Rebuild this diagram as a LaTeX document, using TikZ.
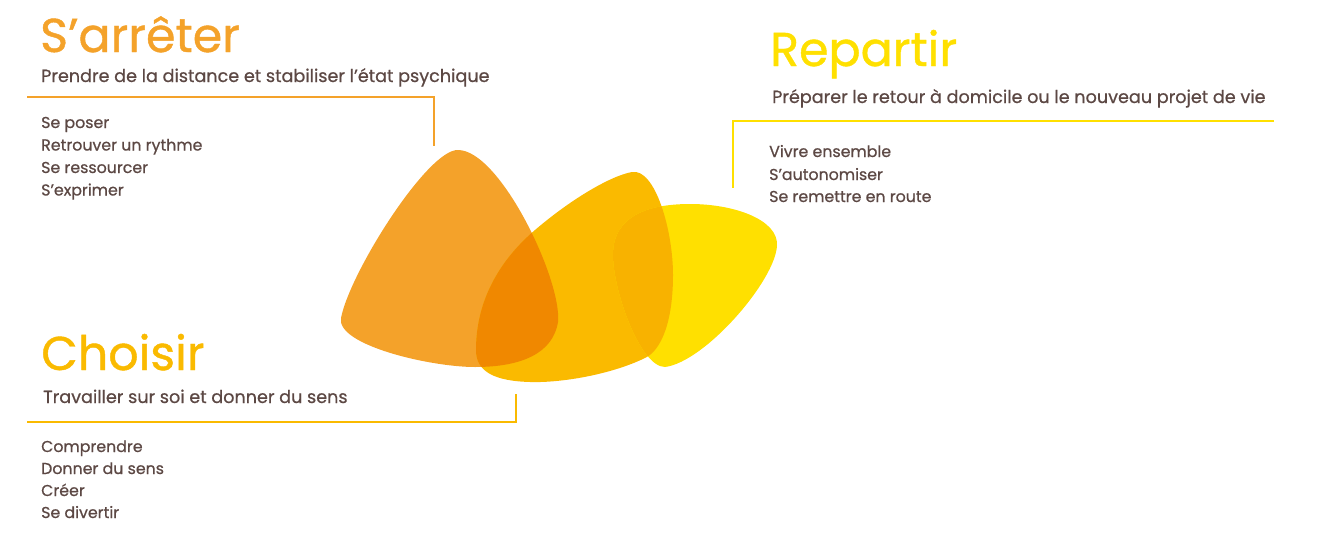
\documentclass[tikz,border=0pt]{standalone}
\usepackage{fontspec}
\setmainfont{Poppins}
\newfontfamily\pmed[FakeBold=0.7]{Poppins}
\newfontfamily\ptitle[FakeBold=0.9]{Poppins}
\definecolor{cArret}{HTML}{F4A22A}
\definecolor{cChoix}{HTML}{FABA00}
\definecolor{cRepart}{HTML}{FFE000}
\definecolor{cOverA}{HTML}{F08800}
\definecolor{cOverB}{HTML}{F8B200}
\definecolor{cText}{HTML}{5C4844}
\tikzset{
  shArret/.style={insert path={(458,150) .. controls (428,149) and (350,272) .. (341,318) .. controls (336,345) and (430,367) .. (475,367) .. controls (522,367) and (553,353) .. (558,322) .. controls (562,280) and (500,150) .. (458,150) -- cycle}},
  shChoix/.style={insert path={(632,172) .. controls (655,168) and (673,230) .. (673,275) .. controls (673,320) and (662,350) .. (645,358) .. controls (610,375) and (560,383) .. (530,382) .. controls (495,381) and (476,372) .. (476,350) .. controls (476,300) and (500,260) .. (535,230) .. controls (570,200) and (610,176) .. (632,172) -- cycle}},
  shRepart/.style={insert path={(690,204) .. controls (735,204) and (778,220) .. (777,245) .. controls (776,280) and (705,362) .. (665,367) .. controls (640,367) and (613,290) .. (613,255) .. controls (613,215) and (650,204) .. (690,204) -- cycle}},
  titlelbl/.style={anchor=base west, inner sep=0pt, font=\ptitle\fontsize{47.5}{47.5}\selectfont},
  sublbl/.style={anchor=base west, inner sep=0pt, text=cText, font=\pmed\fontsize{17.6}{17.6}\selectfont},
  itemlbl/.style={anchor=base west, inner sep=0pt, text=cText, font=\pmed\fontsize{15.8}{15.8}\selectfont},
  bracket/.style={line width=2pt},
}
\begin{document}
\begin{tikzpicture}[x=1pt,y=-1pt]
\useasboundingbox (0,0) rectangle (1319,533);
% shapes
\fill[cArret, shArret];
\fill[cChoix, shChoix];
\fill[cRepart, shRepart];
\begin{scope}
  \clip[shArret];
  \fill[cOverA, shChoix];
\end{scope}
\begin{scope}
  \clip[shRepart];
  \fill[cOverB, shChoix];
\end{scope}
% S'arreter
\node[titlelbl, text=cArret] (tA) at (40,52) {S’arrêter};
\node[sublbl] (sA) at (41,82) {Prendre de la distance et stabiliser l’état psychique};
\node[itemlbl] (iA1) at (41,128) {Se poser};
\node[itemlbl] (iA2) at (41,150.5) {Retrouver un rythme};
\node[itemlbl] (iA3) at (41,173) {Se ressourcer};
\node[itemlbl] (iA4) at (41,195.5) {S’exprimer};
\coordinate (aL) at (27,97);
\coordinate (aC) at (434,97);
\coordinate (aE) at (434,146);
\draw[bracket, cArret] (aL) -- (aC) -- (aE);
% Repartir
\node[titlelbl, text=cRepart] (tR) at (770,66) {Repartir};
\node[sublbl] (sR) at (772,103) {Préparer le retour à domicile ou le nouveau projet de vie};
\node[itemlbl] (iR1) at (769,157) {Vivre ensemble};
\node[itemlbl] (iR2) at (769,180) {S’autonomiser};
\node[itemlbl] (iR3) at (769,202) {Se remettre en route};
\coordinate (rE) at (1274,121);
\coordinate (rC) at (733,121);
\coordinate (rL) at (733,188);
\draw[bracket, cRepart] (rE) -- (rC) -- (rL);
% Choisir
\node[titlelbl, text=cChoix] (tC) at (41,370) {Choisir};
\node[sublbl] (sC) at (43,403) {Travailler sur soi et donner du sens};
\node[itemlbl] (iC1) at (41,452) {Comprendre};
\node[itemlbl] (iC2) at (41,474) {Donner du sens};
\node[itemlbl] (iC3) at (41,496) {Créer};
\node[itemlbl] (iC4) at (41,518) {Se divertir};
\coordinate (cL) at (27,422);
\coordinate (cC) at (516,422);
\coordinate (cE) at (516,394);
\draw[bracket, cChoix] (cL) -- (cC) -- (cE);
\end{tikzpicture}
\end{document}
